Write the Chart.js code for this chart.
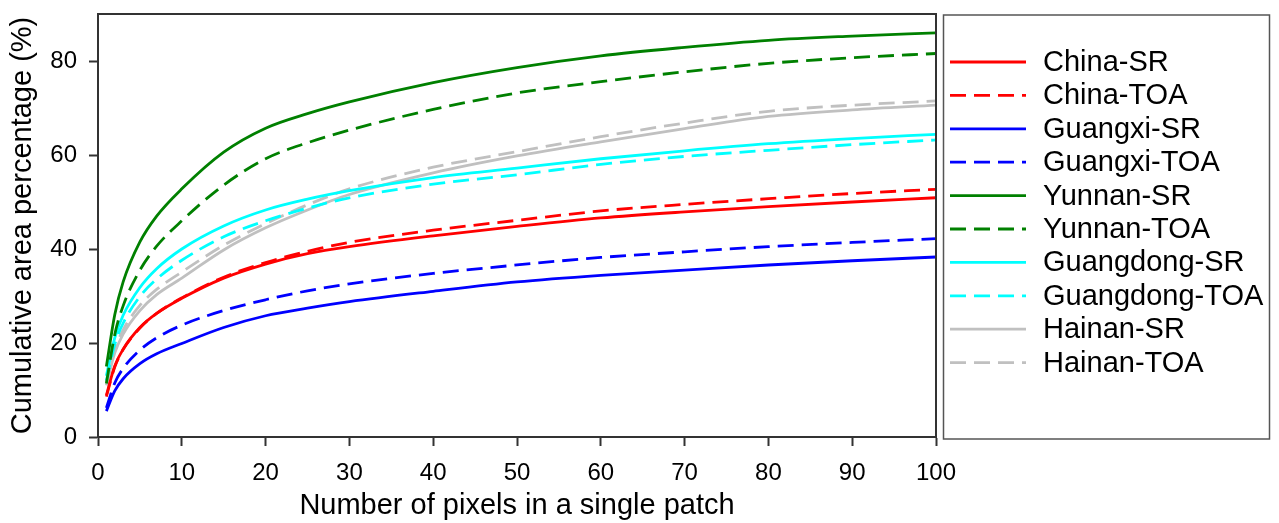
<!DOCTYPE html>
<html>
<head>
<meta charset="utf-8">
<script src="https://cdn.jsdelivr.net/npm/chart.js@4/dist/chart.umd.min.js"></script>
<style>
  html, body { margin: 0; padding: 0; background: #fff; }
  #wrap { width: 1279px; height: 523px; position: relative; }
</style>
</head>
<body>
<div id="wrap"><canvas id="chart"></canvas></div>
<script>
// Cumulative area percentage vs. patch size
var xValues = [1, 2, 3, 5, 7, 10, 15, 20, 25, 30, 40, 50, 60, 70, 80, 90, 100];
var xTicks = [0, 10, 20, 30, 40, 50, 60, 70, 80, 90, 100];
var yTicks = [0, 20, 40, 60, 80];

var chinaSR      = [8.9, 15.1, 18.7, 23.3, 26.3, 29.5, 33.8, 36.8, 39.0, 40.5, 42.8, 44.8, 46.6, 47.9, 49.0, 50.0, 50.9];
var chinaTOA     = [8.6, 14.9, 18.6, 23.2, 26.3, 29.6, 34.0, 37.1, 39.5, 41.4, 44.0, 46.1, 48.1, 49.5, 50.7, 51.8, 52.7];
var guangxiSR    = [5.5, 9.8, 12.4, 15.6, 17.7, 19.9, 23.3, 25.8, 27.4, 28.8, 31.0, 33.0, 34.4, 35.5, 36.6, 37.5, 38.3];
var guangxiTOA   = [6.2, 11.5, 14.6, 18.5, 21.1, 23.8, 26.9, 29.2, 31.1, 32.6, 34.8, 36.6, 38.2, 39.4, 40.5, 41.4, 42.2];
var yunnanSR     = [15.0, 26.0, 33.0, 41.5, 47.0, 52.8, 60.6, 65.7, 68.8, 71.3, 75.4, 78.6, 81.1, 82.9, 84.4, 85.3, 86.0];
var yunnanTOA    = [11.4, 21.8, 27.9, 35.5, 40.6, 46.0, 53.6, 59.2, 62.6, 65.3, 69.7, 73.2, 75.6, 77.7, 79.5, 80.7, 81.6];
var guangdongSR  = [13.0, 21.1, 25.9, 31.8, 35.8, 40.0, 44.9, 48.3, 50.6, 52.4, 55.2, 57.2, 59.2, 60.9, 62.4, 63.5, 64.4];
var guangdongTOA = [12.0, 19.7, 24.2, 29.9, 33.6, 37.6, 42.6, 46.0, 48.7, 50.9, 53.8, 55.8, 58.0, 59.7, 61.0, 62.2, 63.2];
var hainanSR     = [11.0, 17.9, 21.9, 26.9, 30.3, 33.8, 39.8, 44.5, 48.3, 51.6, 56.2, 59.8, 62.8, 65.6, 68.2, 69.6, 70.6];
var hainanTOA    = [11.5, 18.6, 22.8, 28.0, 31.4, 35.1, 40.8, 45.4, 49.4, 52.8, 57.4, 60.7, 63.9, 66.8, 69.3, 70.6, 71.5];

var FONT = "Arial, 'Liberation Sans', sans-serif";
var DASH = [16, 8];

function series(label, values, color, dashed) {
    return {
        label: label,
        data: values.map(function (v, i) { return { x: xValues[i], y: v }; }),
        borderColor: color,
        backgroundColor: color,
        borderWidth: 2.8,
        borderDash: dashed ? DASH : [],
        pointRadius: 0,
        cubicInterpolationMode: 'monotone',
        fill: false
    };
}

var datasets = [
    series('China-SR', chinaSR, '#ff0000', false),
    series('China-TOA', chinaTOA, '#ff0000', true),
    series('Guangxi-SR', guangxiSR, '#0000ff', false),
    series('Guangxi-TOA', guangxiTOA, '#0000ff', true),
    series('Yunnan-SR', yunnanSR, '#008000', false),
    series('Yunnan-TOA', yunnanTOA, '#008000', true),
    series('Guangdong-SR', guangdongSR, '#00ffff', false),
    series('Guangdong-TOA', guangdongTOA, '#00ffff', true),
    series('Hainan-SR', hainanSR, '#c0c0c0', false),
    series('Hainan-TOA', hainanTOA, '#c0c0c0', true)
];

// frame on top/right + boxed legend on the right
var framePlugin = {
    id: 'frameLegend',
    afterDraw: function (chart) {
        var ctx = chart.ctx, a = chart.chartArea;
        ctx.save();
        ctx.strokeStyle = '#333';
        ctx.lineWidth = 2;
        ctx.beginPath();
        ctx.moveTo(a.left, a.top);
        ctx.lineTo(a.right, a.top);
        ctx.lineTo(a.right, a.bottom);
        ctx.stroke();

        // legend box
        ctx.strokeStyle = '#555';
        ctx.lineWidth = 1.5;
        ctx.strokeRect(943.5, 15, 326, 424);

        ctx.font = '29px ' + FONT;
        ctx.textBaseline = 'middle';
        ctx.textAlign = 'left';
        chart.data.datasets.forEach(function (ds, i) {
            var y = 62 + i * 33.4;
            ctx.strokeStyle = ds.borderColor;
            ctx.lineWidth = 2.8;
            ctx.setLineDash(ds.borderDash || []);
            ctx.beginPath();
            ctx.moveTo(950, y);
            ctx.lineTo(1026, y);
            ctx.stroke();
            ctx.setLineDash([]);
            ctx.fillStyle = '#000';
            ctx.fillText(ds.label, 1043, y + 1);
        });
        ctx.restore();
    }
};

document.addEventListener('DOMContentLoaded', function () {
    var ctx = document.getElementById('chart').getContext('2d');
    new Chart(ctx, {
        type: 'line',
        data: { datasets: datasets },
        options: {
            responsive: true,
            maintainAspectRatio: false,
            animation: false,
            layout: { padding: { left: 0, right: 343, top: 14, bottom: 0 } },
            plugins: { legend: { display: false }, tooltip: { enabled: false } },
            scales: {
                x: {
                    type: 'linear',
                    min: 0,
                    max: 100,
                    afterBuildTicks: function (s) { s.ticks = xTicks.map(function (v) { return { value: v }; }); },
                    afterFit: function (s) { s.height = 86; s.paddingLeft = 0; s.paddingRight = 0; },
                    grid: { drawOnChartArea: false, tickLength: 9, tickColor: '#333', tickWidth: 2 },
                    border: { display: true, color: '#333', width: 2 },
                    ticks: { color: '#000', font: { family: FONT, size: 24 }, padding: 13, maxRotation: 0 },
                    title: {
                        display: true,
                        text: 'Number of pixels in a single patch',
                        color: '#000',
                        font: { family: FONT, size: 29 },
                        padding: { top: 0, bottom: 0 }
                    }
                },
                y: {
                    min: 0,
                    max: 90,
                    afterBuildTicks: function (s) { s.ticks = yTicks.map(function (v) { return { value: v }; }); },
                    afterFit: function (s) { s.width = 98; s.paddingTop = 0; s.paddingBottom = 0; },
                    grid: { drawOnChartArea: false, tickLength: 9, tickColor: '#333', tickWidth: 2 },
                    border: { display: true, color: '#333', width: 2 },
                    ticks: { color: '#000', font: { family: FONT, size: 24 }, padding: 12 },
                    title: {
                        display: true,
                        text: 'Cumulative area percentage (%)',
                        color: '#000',
                        font: { family: FONT, size: 29 },
                        padding: { top: 6, bottom: 0 }
                    }
                }
            }
        },
        plugins: [framePlugin]
    });
});
</script>
</body>
</html>
